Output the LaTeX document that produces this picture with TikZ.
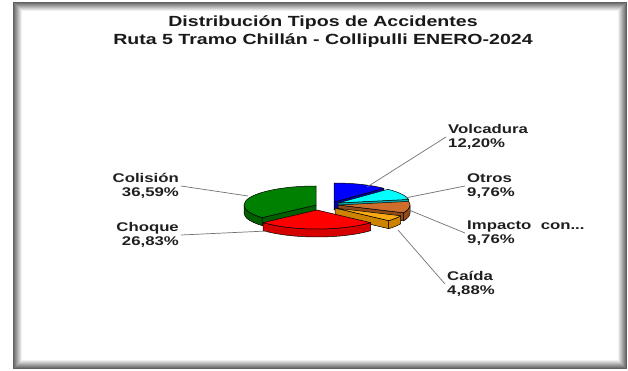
\documentclass[tikz,border=0pt]{standalone}
\usepackage{fontspec}
\setmainfont{Liberation Sans}[FakeStretch=1.33]
\usetikzlibrary{calc}
\definecolor{gtop}{RGB}{0,128,0}
\definecolor{gside}{RGB}{0,95,0}
\definecolor{rtop}{RGB}{255,0,0}
\definecolor{rside}{RGB}{215,0,0}
\definecolor{btop}{RGB}{0,0,255}
\definecolor{bside}{RGB}{0,0,170}
\definecolor{ctop}{RGB}{0,255,255}
\definecolor{cside}{RGB}{0,175,175}
\definecolor{brtop}{RGB}{205,110,45}
\definecolor{brside}{RGB}{145,75,25}
\definecolor{otop}{RGB}{250,170,20}
\definecolor{oside}{RGB}{205,130,0}
\newcommand\cutface[4]{\filldraw[fill=#4, edge] (#1,#2) -- ++(-#3:72 and 19) -- ++(0,8) -- (#1,#2+8) -- cycle;}
\newcommand\sideface[5]{\filldraw[fill=#5, edge] ($(#1,#2)+(-#3:72 and 19)$) arc[start angle=-#3, end angle=-#4, x radius=72, y radius=19] -- ++(0,8) arc[start angle=-#4, end angle=-#3, x radius=72, y radius=19] -- cycle;}
\newcommand\topface[5]{\filldraw[fill=#5, edge] (#1,#2) -- ++(-#3:72 and 19) arc[start angle=-#3, end angle=-#4, x radius=72, y radius=19] -- cycle;}
\begin{document}
\begin{tikzpicture}[x=1pt,y=-1pt,
  lbl/.style={font=\bfseries\fontsize{12.6}{14}\selectfont, text=black!88, inner sep=2pt},
  ttl/.style={font=\bfseries\fontsize{14.7}{18}\selectfont, text=black!90, align=center},
  leader/.style={draw=black!55, line width=0.7pt},
  edge/.style={draw=black, line width=0.5pt, line join=round}]
\useasboundingbox (0,0) rectangle (628,371);
\fill[white] (0,0) rectangle (628,371);
% frame with inner shadow
\foreach \i [evaluate=\i as \p using {int(max(0,62-\i*7))}] in {0,...,9} {
  \draw[draw=black!\p, line width=1pt] (13.5+\i,2.5+\i) rectangle (626.5-\i,368.5-\i);
}
% title
\node[ttl] (title) at (323,32) {Distribución Tipos de Accidentes\\Ruta 5 Tramo Chillán - Collipulli ENERO-2024};
% pie slices, back to front
\cutface{334}{202}{46.1}{bside}
\topface{334}{202}{46.1}{90}{btop}
\cutface{338}{203}{10.9}{cside}
\topface{338}{203}{10.9}{46.1}{ctop}
\cutface{316}{205}{221.6}{gside}
\sideface{316}{205}{180}{221.6}{gside}
\topface{316}{205}{90}{221.6}{gtop}
\cutface{338}{205}{335.8}{brside}
\sideface{338}{205}{335.8}{360}{brside}
\topface{338}{205}{335.8}{370.9}{brtop}
\cutface{335}{208}{318.2}{oside}
\sideface{335}{208}{318.2}{335.8}{oside}
\topface{335}{208}{318.2}{335.8}{otop}
\sideface{317}{210}{221.6}{318.2}{rside}
\topface{317}{210}{221.6}{318.2}{rtop}
% labels
\node[lbl, anchor=east, align=right] (colision) at (181,186) {Colisión\\36,59\%};
\node[lbl, anchor=east, align=right] (choque) at (181,235) {Choque\\26,83\%};
\node[lbl, anchor=west, align=left] (volcadura) at (446,137) {Volcadura\\12,20\%};
\node[lbl, anchor=west, align=left] (otros) at (465,186) {Otros\\9,76\%};
\node[lbl, anchor=west, align=left] (impacto) at (465,233) {Impacto\ \ con...\\9,76\%};
\node[lbl, anchor=west, align=left] (caida) at (445,284) {Caída\\4,88\%};
% leader end points
\coordinate (pcol) at (248,196);
\coordinate (pcho) at (267,231);
\coordinate (pvol) at (367,187);
\coordinate (potr) at (405,198);
\coordinate (pimp) at (409,210);
\coordinate (pcai) at (398,230);
\draw[leader] (colision.east) -- (pcol);
\draw[leader] (choque.east) -- (pcho);
\draw[leader] (volcadura.west) -- (pvol);
\draw[leader] (otros.west) -- (potr);
\draw[leader] (impacto.west) -- (pimp);
\draw[leader] (caida.west) -- (pcai);
\end{tikzpicture}
\end{document}
